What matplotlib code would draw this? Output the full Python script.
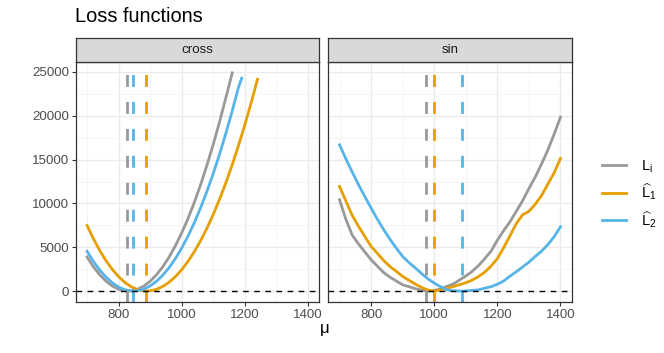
import numpy as np
import matplotlib
matplotlib.use("Agg")
import matplotlib.pyplot as plt
from matplotlib.lines import Line2D

plt.rcParams["font.family"] = ["Liberation Sans", "DejaVu Sans"]
plt.rcParams["mathtext.fontset"] = "custom"
plt.rcParams["mathtext.rm"] = "Liberation Sans"
plt.rcParams["mathtext.it"] = "Liberation Sans:italic"

# colours for the three loss curves
col_true = "#999999"
col_hat1 = "#E69F00"
col_hat2 = "#56B4E9"

# panel "cross"
cross_mu_true = list(range(700, 1161, 20))
cross_true = [3890, 2780, 1860, 1130, 575, 210, 25, 25, 210, 575, 1130, 1860,
              2780, 3890, 5180, 6650, 8300, 10140, 12170, 14380, 16770, 19340, 22100, 24900]
cross_mu_hat1 = list(range(700, 1241, 20))
cross_hat1 = [7490, 5980, 4640, 3470, 2470, 1640, 980, 490, 170, 15, 30, 200, 530, 1010,
              1650, 2450, 3400, 4510, 5770, 7190, 8760, 10500, 12380, 14430, 16630, 18990,
              21500, 24170]
cross_mu_hat2 = list(range(700, 1181, 20)) + [1190]
cross_hat2 = [4540, 3390, 2400, 1590, 940, 460, 150, 10, 35, 230, 590, 1120, 1820, 2680,
              3720, 4920, 6280, 7820, 9530, 11400, 13440, 15650, 18030, 20570, 23280, 24300]
cross_min = [828, 887, 847]  # true, hat1, hat2

# panel "sin"
sin_mu = list(range(700, 1401, 20))
sin_true = [10420, 8200, 6400, 5380, 4480, 3570, 2840, 2110, 1580, 1150, 720, 500, 280, 90,
            10, 70, 230, 540, 800, 1260, 1720, 2240, 2900, 3700, 4550, 5800, 6900, 7900,
            9100, 10300, 11700, 13000, 14500, 16100, 17900, 19850]
sin_hat1 = [11940, 10300, 8650, 7400, 6250, 5100, 4300, 3480, 2800, 2250, 1670, 1230, 800,
            420, 120, 10, 120, 330, 510, 720, 950, 1250, 1650, 2150, 2850, 3700, 4950, 6300,
            7700, 8700, 9100, 9900, 10900, 12200, 13500, 15130]
sin_hat2 = [16690, 15100, 13600, 12150, 10800, 9470, 8200, 7000, 5900, 4900, 3950, 3250,
            2650, 2000, 1400, 910, 500, 140, 40, 0, 20, 80, 140, 330, 500, 780, 1150, 1700,
            2200, 2750, 3300, 3950, 4550, 5300, 6200, 7340]
sin_min = [974, 998, 1087]

panels = ["cross", "sin"]
legend_labels = [r"$\mathrm{L}_{\mathrm{i}}$", r"$\widehat{\mathrm{L}}_1$", r"$\widehat{\mathrm{L}}_2$"]

fig = plt.figure(figsize=(6.64, 3.53), dpi=100)

def style_panel(ax, show_y):
    ax.set_xlim(665, 1435)
    ax.set_ylim(-1245, 26145)
    ax.set_xticks([800, 1000, 1200, 1400])
    ax.set_xticks([700, 900, 1100, 1300], minor=True)
    ax.set_yticks([0, 5000, 10000, 15000, 20000, 25000])
    ax.set_yticks([2500, 7500, 12500, 17500, 22500], minor=True)
    ax.grid(which="major", color="#EBEBEB", lw=1.0)
    ax.grid(which="minor", color="#F2F2F2", lw=0.5)
    ax.set_axisbelow(True)
    for s in ax.spines.values():
        s.set_color("#333333")
        s.set_linewidth(0.9)
    ax.tick_params(which="major", color="#333333", length=3, width=0.8,
                   labelsize=9.6, labelcolor="#4D4D4D", pad=2)
    ax.tick_params(which="minor", length=0)
    if not show_y:
        ax.tick_params(axis="y", left=False, labelleft=False)

def draw_strip(x0, w, text):
    sax = fig.add_axes([x0, 0.8244, w, 0.068])
    sax.set_facecolor("#D9D9D9")
    sax.set_xticks([])
    sax.set_yticks([])
    for s in sax.spines.values():
        s.set_color("#333333")
        s.set_linewidth(0.9)
    sax.text(0.5, 0.5, text, ha="center", va="center", fontsize=9.6, color="#1A1A1A")

lefts = [0.1145, 0.4947]
width = 0.366

ax1 = fig.add_axes([lefts[0], 0.1445, width, 0.68])
style_panel(ax1, True)
ax1.plot(cross_mu_true, cross_true, color=col_true, lw=2.0)
ax1.plot(cross_mu_hat1, cross_hat1, color=col_hat1, lw=2.0)
ax1.plot(cross_mu_hat2, cross_hat2, color=col_hat2, lw=2.0)
for v, c in zip(cross_min, [col_true, col_hat1, col_hat2]):
    ax1.axvline(v, color=c, lw=2.0, dashes=(4.3, 5.4))
ax1.axhline(0, color="black", lw=1.0, dashes=(4, 4))

ax2 = fig.add_axes([lefts[1], 0.1445, width, 0.68])
style_panel(ax2, False)
ax2.plot(sin_mu, sin_true, color=col_true, lw=2.0)
ax2.plot(sin_mu, sin_hat1, color=col_hat1, lw=2.0)
ax2.plot(sin_mu, sin_hat2, color=col_hat2, lw=2.0)
for v, c in zip(sin_min, [col_true, col_hat1, col_hat2]):
    ax2.axvline(v, color=c, lw=2.0, dashes=(4.3, 5.4))
ax2.axhline(0, color="black", lw=1.0, dashes=(4, 4))

for x0, name in zip(lefts, panels):
    draw_strip(x0, width, name)

fig.text(0.113, 0.952, "Loss functions", fontsize=14.4, ha="left", va="center", color="black")
fig.text(0.488, 0.065, r"$\mathrm{\mu}$", fontsize=12, ha="center", va="center")

handles = [Line2D([], [], color=c, lw=2.0) for c in [col_true, col_hat1, col_hat2]]
fig.legend(handles, legend_labels, loc="center left", bbox_to_anchor=(0.895, 0.45),
           frameon=False, fontsize=10.5, handlelength=1.7, handletextpad=1.0,
           labelspacing=0.45, borderpad=0)

fig.savefig("out.png", dpi=100)
